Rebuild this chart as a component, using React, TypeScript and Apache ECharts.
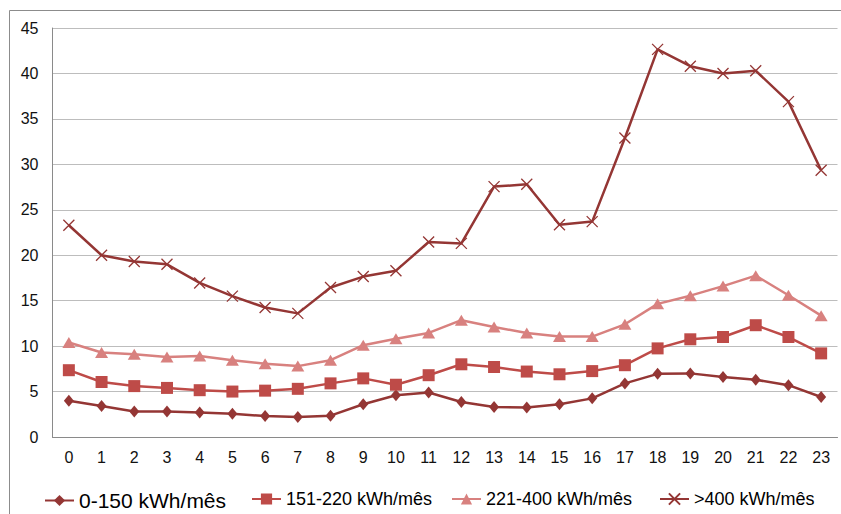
import React, { useEffect, useRef } from "react";
import * as echarts from "echarts";

const hours = ["0","1","2","3","4","5","6","7","8","9","10","11","12","13","14","15","16","17","18","19","20","21","22","23"];
const seriesNames = ["0-150 kWh/mês", "151-220 kWh/mês", "221-400 kWh/mês", ">400 kWh/mês"];
const s0to150 = [4.0,3.4,2.8,2.8,2.7,2.55,2.3,2.2,2.35,3.6,4.6,4.9,3.85,3.3,3.25,3.6,4.25,5.9,6.95,7.0,6.6,6.3,5.7,4.4];
const s151to220 = [7.35,6.05,5.6,5.4,5.15,5.0,5.1,5.3,5.9,6.45,5.75,6.8,8.0,7.7,7.2,6.9,7.25,7.9,9.75,10.75,11.0,12.3,11.0,9.2];
const s221to400 = [10.4,9.3,9.1,8.8,8.9,8.45,8.05,7.8,8.45,10.1,10.8,11.45,12.85,12.1,11.45,11.05,11.05,12.4,14.65,15.55,16.6,17.75,15.6,13.35];
const sOver400 = [23.3,20.0,19.3,19.0,16.95,15.5,14.25,13.6,16.45,17.65,18.3,21.45,21.3,27.55,27.8,23.35,23.7,32.9,42.65,40.8,40.0,40.3,36.9,29.35];

const FONT = "'Liberation Sans', Arial, sans-serif";
const DARK = "#943634";
const MID = "#BE4B48";
const LIGHT = "#D8817F";

export default function App() {
  const ref = useRef<HTMLDivElement>(null);
  useEffect(() => {
    if (!ref.current) return;
    const chart = echarts.init(ref.current, undefined, { renderer: "svg" });
    const mkSeries = (name: string, data: number[], color: string, symbol: string, size: any, extra: any = {}) => ({
      name,
      type: "line",
      data,
      symbol,
      symbolSize: size,
      showSymbol: true,
      lineStyle: { color, width: 2.5 },
      itemStyle: { color, ...extra },
      emphasis: { disabled: true },
      z: 3,
    });
    const legendBase = (name: string, left: number, fontSize: number) => ({
      data: [{ name, textStyle: { fontSize } }],
      left,
      top: 490,
      padding: 0,
      itemWidth: 29,
      itemHeight: 14,
      itemGap: 0,
      selectedMode: false,
      textStyle: { fontFamily: FONT, color: "#000", fontSize },
    });
    chart.setOption({
      animation: false,
      backgroundColor: "#fff",
      grid: { left: 52.5, right: 3.5, top: 28, bottom: 77, containLabel: false },
      xAxis: {
        type: "category",
        data: hours,
        boundaryGap: true,
        axisLine: { show: true, lineStyle: { color: "#8a8a8a", width: 1 } },
        axisTick: { show: false },
        axisLabel: { fontFamily: FONT, fontSize: 16, color: "#111", margin: 12 },
        splitLine: { show: false },
      },
      yAxis: {
        type: "value",
        min: 0,
        max: 45,
        interval: 5,
        axisLine: { show: true, lineStyle: { color: "#8a8a8a", width: 1 } },
        axisTick: { show: false },
        axisLabel: { fontFamily: FONT, fontSize: 16, color: "#111", margin: 14 },
        splitLine: { show: true, lineStyle: { color: "#bdbdbd", width: 1 } },
      },
      legend: [
        legendBase(seriesNames[0], 44, 21),
        legendBase(seriesNames[1], 251, 18),
        legendBase(seriesNames[2], 451, 18),
        legendBase(seriesNames[3], 659, 18),
      ],
      graphic: [
        {
          type: "rect",
          shape: { x: 9.5, y: 10.5, width: 845, height: 520 },
          style: { fill: "none", stroke: "#8c8c8c", lineWidth: 1 },
          silent: true,
          z: -1,
        },
      ],
      series: [
        mkSeries(seriesNames[0], s0to150, DARK, "diamond", [10, 12]),
        mkSeries(seriesNames[1], s151to220, MID, "rect", 12),
        mkSeries(seriesNames[2], s221to400, LIGHT, "triangle", [13, 11]),
        mkSeries(seriesNames[3], sOver400, DARK, "path://M0,0L10,10M10,0L0,10", 11, {
          color: "none",
          borderColor: DARK,
          borderWidth: 1.3,
        }),
      ],
    });
    return () => chart.dispose();
  }, []);
  return (
    <div
      ref={ref}
      style={{ position: "fixed", left: 0, top: 0, width: 841, height: 514, background: "#fff" }}
    />
  );
}
